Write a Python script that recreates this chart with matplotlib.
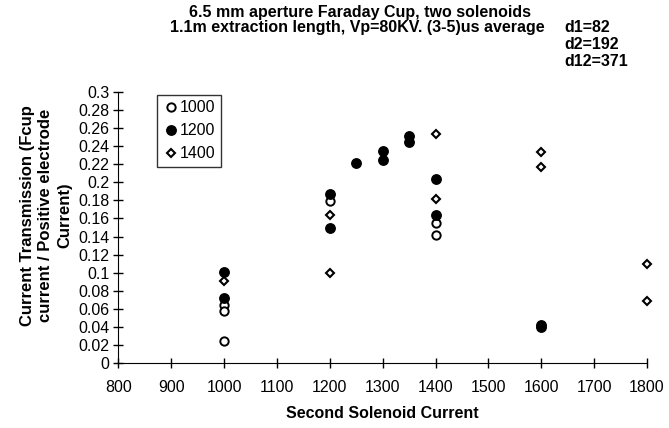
import matplotlib
matplotlib.use("Agg")
import matplotlib.pyplot as plt

plt.rcParams['font.family'] = ['Liberation Sans', 'DejaVu Sans']

# Datos (corriente del segundo solenoide, transmisión)
x_1000 = [1000, 1000, 1000, 1200, 1400, 1400]
y_1000 = [0.064, 0.0576, 0.0247, 0.179, 0.1547, 0.1417]

x_1200 = [1000, 1000, 1200, 1200, 1250, 1300, 1300, 1350, 1350, 1400, 1400, 1600, 1600]
y_1200 = [0.101, 0.072, 0.1875, 0.149, 0.2218, 0.235, 0.2248, 0.2517, 0.2451, 0.2037, 0.164, 0.042, 0.040]

x_1400 = [1000, 1200, 1200, 1400, 1400, 1600, 1600, 1800, 1800]
y_1400 = [0.0904, 0.164, 0.100, 0.254, 0.182, 0.2333, 0.2174, 0.110, 0.069]

xticks = list(range(800, 1801, 100))
yticks = [i * 0.02 for i in range(16)]
ytick_labels = ['0', '0.02', '0.04', '0.06', '0.08', '0.1', '0.12', '0.14', '0.16',
                '0.18', '0.2', '0.22', '0.24', '0.26', '0.28', '0.3']

fs = 11.5

fig = plt.figure(figsize=(6.69, 4.28), dpi=100)
ax = fig.add_axes([0.177, 0.152, 0.790, 0.633])

ax.plot(x_1000, y_1000, 'o', ms=6, mfc='white', mec='black', mew=1.4, ls='none', label='1000', clip_on=False)
ax.plot(x_1200, y_1200, 'o', ms=6.8, mfc='black', mec='black', ls='none', label='1200', clip_on=False)
ax.plot(x_1400, y_1400, 'D', ms=4.5, mfc='white', mec='black', mew=1.5, ls='none', label='1400', clip_on=False)

ax.set_xlim(800, 1800)
ax.set_ylim(0, 0.3)
ax.set_xticks(xticks)
ax.set_xticklabels([str(v) for v in xticks], fontsize=fs)
ax.set_yticks(yticks)
ax.set_yticklabels(ytick_labels, fontsize=fs)
ax.tick_params(direction='inout', length=7, width=1, pad=3)
ax.tick_params(axis='x', pad=9)
ax.spines['top'].set_visible(False)
ax.spines['right'].set_visible(False)

ax.set_xlabel('Second Solenoid Current', fontsize=fs, fontweight='bold', labelpad=8)
ax.set_ylabel('Current Transmission (Fcup\ncurrent / Positive electrode\nCurrent)',
              fontsize=12, fontweight='bold', linespacing=1.3)
ax.yaxis.set_label_coords(-0.088, 0.545)

leg = ax.legend(loc='upper left', bbox_to_anchor=(0.073, 0.99), frameon=True, fancybox=False,
                edgecolor='black', fontsize=fs, handletextpad=0.05, borderpad=0.35,
                labelspacing=0.5, handlelength=1.0, borderaxespad=0)
leg.get_frame().set_linewidth(1)

fig.text(0.538, 0.988, '6.5 mm aperture Faraday Cup, two solenoids', ha='center', va='top',
         fontsize=fs, fontweight='bold')
fig.text(0.534, 0.953, '1.1m extraction length, Vp=80KV. (3-5)us average', ha='center', va='top',
         fontsize=fs, fontweight='bold')
fig.text(0.843, 0.953, 'd1=82\nd2=192\nd12=371', ha='left', va='top',
         fontsize=fs, fontweight='bold', linespacing=1.15)

fig.savefig('out.png', dpi=100)
